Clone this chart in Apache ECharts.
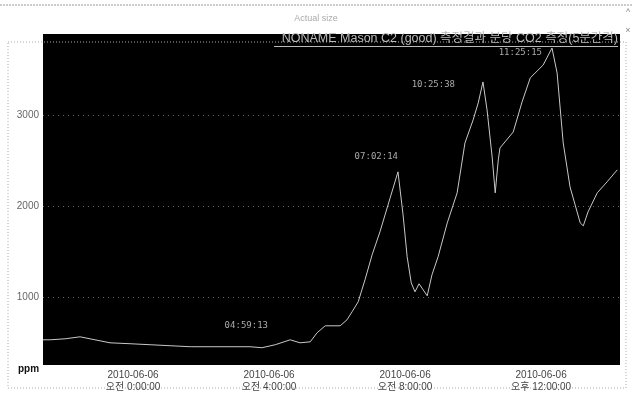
<!DOCTYPE html>
<html><head><meta charset="utf-8">
<script src="https://cdn.jsdelivr.net/npm/echarts@6/dist/echarts.min.js"></script>
<style>html,body{margin:0;padding:0;background:#fff;}#c{width:633px;height:395px;}</style>
</head><body><div id="c"></div>
<script>
// hours relative to 2010-06-06 00:00
const hours = [-2.65,-2.44,-2.0,-1.56,-1.12,-0.68,-0.09,0.5,1.09,1.68,2.26,2.85,3.44,3.79,4.18,4.62,4.91,5.21,5.41,5.65,6.09,6.29,6.44,6.62,6.82,7.03,7.26,7.56,7.79,7.94,8.06,8.18,8.29,8.41,8.53,8.65,8.79,8.97,9.24,9.53,9.76,10.0,10.15,10.29,10.41,10.56,10.65,10.74,10.79,11.18,11.44,11.68,12.06,12.32,12.47,12.65,12.85,13.15,13.24,13.38,13.65,13.94,14.24];
const ppm = [527,527,538,560,527,494,484,473,462,451,451,451,451,440,473,527,494,505,604,681,681,747,835,945,1187,1462,1714,2088,2374,1901,1440,1154,1055,1143,1077,1011,1242,1440,1813,2143,2692,2945,3132,3363,3055,2538,2143,2505,2637,2813,3143,3407,3549,3736,3462,2692,2209,1813,1780,1934,2143,2264,2396];
const yTicks = [1000, 2000, 3000];
const xTickHours = [0, 4, 8, 12];
const xTickLabels = ['2010-06-06\n오전 0:00:00', '2010-06-06\n오전 4:00:00', '2010-06-06\n오전 8:00:00', '2010-06-06\n오후 12:00:00'];
const pointLabelIdx = [13, 28, 43, 53];
const pointLabelText = ['04:59:13', '07:02:14', '10:25:38', '11:25:15'];
const legendText = 'NONAME Mason C2 (good) 측정결과 분당 CO2 측정(5분간격)';
const titleText = 'Actual size';

const labelOffsets = [[6,-22],[0,-15],[-28,3],[-10,5]];
const chart = echarts.init(document.getElementById('c'));
const font = '"Liberation Sans","Noto Sans CJK KR",sans-serif';
chart.setOption({
  backgroundColor: '#fff',
  animation: false,
  grid: {left: 43, right: 13, top: 34, bottom: 30, backgroundColor: '#000', show: true, borderWidth: 0},
  xAxis: {
    type: 'value', min: -2.65, max: 14.32,
    axisLine: {show: false}, axisTick: {show: false}, splitLine: {show: false},
    axisLabel: {customValues: xTickHours, formatter: v => xTickLabels[xTickHours.indexOf(v)] || '',
      color: '#444', fontSize: 10, fontFamily: font, margin: 4, lineHeight: 12}
  },
  yAxis: {
    type: 'value', min: 250, max: 3890,
    axisLine: {show: false},
    axisTick: {show: false, customValues: yTicks},
    axisLabel: {customValues: yTicks, formatter: v => String(v), color: '#666', fontSize: 10, fontFamily: font, margin: 4},
    splitLine: {show: true, lineStyle: {color: '#666', type: [1, 4], width: 1}}
  },
  series: [{
    type: 'line',
    data: hours.map((h, i) => [h, ppm[i]]),
    showSymbol: false,
    lineStyle: {color: '#c8c8c8', width: 1},
    markPoint: {
      symbolSize: 0,
      data: pointLabelIdx.map((idx, k) => ({
        coord: [hours[idx], ppm[idx]], value: pointLabelText[k],
        label: {show: true, formatter: pointLabelText[k], position: labelOffsets[k], align: 'right', verticalAlign: 'middle',
          color: '#aaa', fontSize: 9, fontFamily: '"DejaVu Sans Mono",monospace'}
      }))
    }
  }],
  graphic: [
    {type: 'line', shape: {x1: 0, y1: 5, x2: 633, y2: 5}, style: {stroke: '#999', lineDash: [2, 1]}},
    {type: 'rect', shape: {x: 8, y: 42, width: 618, height: 346}, style: {fill: 'none', stroke: '#aaa', lineDash: [1, 2]}},
    {type: 'text', x: 316, y: 19, style: {text: titleText, align: 'center', verticalAlign: 'middle', fill: '#aaa', font: '9px ' + font}},
    {type: 'text', x: 628, y: 13, style: {text: '^', align: 'center', verticalAlign: 'middle', fill: '#888', font: '9px ' + font}},
    {type: 'text', x: 628, y: 31, style: {text: '×', align: 'center', verticalAlign: 'middle', fill: '#888', font: '9px ' + font}},
    {type: 'text', x: 618, y: 39, z: 10, style: {text: legendText, align: 'right', verticalAlign: 'middle', fill: '#bbb', font: '12.5px ' + font}},
    {type: 'line', z: 10, shape: {x1: 274, y1: 46.5, x2: 618, y2: 46.5}, style: {stroke: '#bbb', lineWidth: 1}},
    {type: 'text', x: 18, y: 369, style: {text: 'ppm', align: 'left', verticalAlign: 'middle', fill: '#111', font: 'bold 10px ' + font}}
  ]
});
</script></body></html>
